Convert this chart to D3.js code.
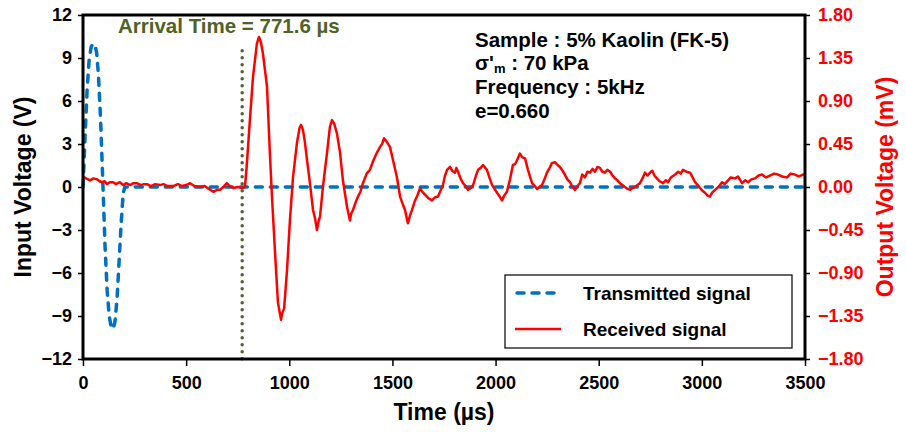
<!DOCTYPE html>
<html>
<head>
<meta charset="utf-8">
<script src="https://cdn.jsdelivr.net/npm/d3@7/dist/d3.min.js"></script>
<style>
  html, body { margin: 0; padding: 0; background: #fff; }
  svg text { font-family: "Liberation Sans", Arial, sans-serif; font-weight: bold; }
</style>
</head>
<body>
<div id="chart"></div>
<script>
// tick labels
const timeTicks = [0, 500, 1000, 1500, 2000, 2500, 3000, 3500];
const inputTicks = [-12, -9, -6, -3, 0, 3, 6, 9, 12];
const outputTicks = [-1.8, -1.35, -0.9, -0.45, 0, 0.45, 0.9, 1.35, 1.8];

// transmitted signal (input, V)
const transTime = [0, 10, 20, 30, 40, 50, 58, 66, 75, 85, 97, 107, 117, 127, 137, 146, 155, 165, 175, 185, 195, 203, 3500];
const transVolt = [0, 3.5, 6.8, 8.9, 9.8, 10.0, 9.9, 9.4, 7.8, 4.8, 0, -4.2, -7.2, -9.0, -9.8, -9.9, -9.4, -7.8, -5.2, -2.5, -0.4, 0, 0];

// received signal (output, mV): [time µs, mV]
const received = [
  [0,0.11],[15,0.09],[34,0.07],[50,0.09],[68,0.08],[80,0.06],[92,0.05],[105,0.06],[116,0.03],[130,0.05],
  [146,0.05],[160,0.03],[179,0.05],[195,0.02],[210,0.04],[228,0.02],[245,0.04],[261,0.04],[280,0.02],[295,0.03],
  [310,0.03],[330,0.01],[350,0.03],[373,0.02],[390,0.03],[410,0.01],[438,0.01],[460,0.03],[480,0.01],[500,0.02],
  [519,0.04],[540,0.01],[567,0.0],[590,0.01],[610,-0.02],[632,-0.05],[650,-0.03],[664,-0.03],[680,0.0],[697,0.04],
  [712,0.01],[729,-0.01],[750,0.0],[776,-0.01],[785,0.0],[793,0.2],[809,0.7],[824,1.15],[843,1.5],[853,1.57],
  [862,1.52],[872,1.40],[892,1.05],[906,0.35],[916,-0.1],[931,-0.69],[945,-1.21],[960,-1.39],[966,-1.32],[975,-1.27],
  [989,-0.87],[1003,-0.35],[1018,0.10],[1037,0.46],[1050,0.62],[1057,0.65],[1066,0.60],[1075,0.48],[1086,0.28],[1100,0.04],
  [1115,-0.24],[1125,-0.33],[1134,-0.45],[1142,-0.36],[1149,-0.31],[1163,0.0],[1183,0.36],[1197,0.63],[1207,0.70],[1218,0.66],
  [1231,0.56],[1246,0.36],[1260,0.07],[1280,-0.21],[1294,-0.35],[1300,-0.28],[1309,-0.24],[1320,-0.17],[1333,-0.10],[1345,-0.05],
  [1357,0.04],[1375,0.14],[1391,0.18],[1408,0.28],[1425,0.36],[1440,0.42],[1450,0.45],[1459,0.51],[1470,0.48],[1488,0.42],
  [1503,0.28],[1522,0.10],[1537,-0.10],[1550,-0.18],[1561,-0.24],[1575,-0.38],[1585,-0.30],[1595,-0.24],[1608,-0.15],[1619,-0.10],
  [1634,-0.01],[1645,-0.05],[1658,-0.08],[1675,-0.12],[1692,-0.14],[1705,-0.11],[1721,-0.10],[1733,-0.04],[1745,0.02],[1755,0.12],
  [1765,0.18],[1779,0.21],[1790,0.17],[1803,0.15],[1810,0.20],[1818,0.16],[1830,0.09],[1842,0.04],[1855,0.01],[1866,-0.03],
  [1880,-0.01],[1891,0.02],[1905,0.12],[1915,0.18],[1928,0.20],[1939,0.23],[1950,0.20],[1958,0.18],[1970,0.10],[1983,0.02],
  [1995,-0.02],[2007,-0.06],[2020,-0.10],[2031,-0.14],[2042,-0.09],[2055,-0.05],[2070,0.08],[2084,0.23],[2095,0.24],[2104,0.28],
  [2118,0.35],[2130,0.31],[2143,0.30],[2157,0.18],[2168,0.10],[2177,0.04],[2190,0.01],[2201,-0.02],[2213,0.0],[2225,0.02],
  [2237,0.08],[2249,0.15],[2262,0.20],[2273,0.25],[2288,0.26],[2300,0.23],[2312,0.21],[2325,0.17],[2336,0.13],[2348,0.08],
  [2361,0.05],[2373,0.0],[2385,-0.03],[2397,0.01],[2409,0.04],[2420,0.13],[2433,0.10],[2445,0.16],[2458,0.15],[2470,0.19],
  [2482,0.16],[2494,0.21],[2506,0.20],[2518,0.16],[2530,0.15],[2542,0.18],[2555,0.16],[2567,0.12],[2579,0.09],[2591,0.07],
  [2603,0.04],[2615,0.02],[2627,0.0],[2640,-0.02],[2652,-0.03],[2664,-0.01],[2676,0.0],[2688,0.02],[2700,0.04],[2712,0.09],
  [2724,0.15],[2737,0.12],[2749,0.15],[2760,0.17],[2770,0.12],[2782,0.09],[2795,0.06],[2812,0.04],[2825,0.07],[2836,0.05],
  [2850,0.10],[2870,0.13],[2885,0.16],[2897,0.14],[2909,0.18],[2925,0.16],[2943,0.15],[2955,0.10],[2967,0.05],[2980,0.02],
  [2991,-0.01],[3003,-0.04],[3015,-0.06],[3028,-0.09],[3039,-0.10],[3050,-0.06],[3064,-0.03],[3080,0.0],[3098,0.05],[3110,0.03],
  [3127,0.07],[3140,0.10],[3161,0.09],[3175,0.11],[3195,0.04],[3210,0.07],[3224,0.05],[3240,0.08],[3258,0.09],[3275,0.12],
  [3292,0.13],[3310,0.10],[3330,0.12],[3350,0.14],[3369,0.13],[3390,0.11],[3413,0.10],[3430,0.14],[3451,0.13],[3470,0.11],
  [3490,0.13],[3500,0.12]
];

const arrivalTime = 771.6;
const arrivalTop = 9.5;

const width = 906, height = 432;
const margin = {top: 15, right: 101, bottom: 73, left: 83};
const w = width - margin.left - margin.right;
const h = height - margin.top - margin.bottom;

const svg = d3.select('#chart').append('svg')
    .attr('width', width)
    .attr('height', height);

const g = svg.append('g').attr('transform', `translate(${margin.left},${margin.top})`);

const x = d3.scaleLinear().domain([0, 3500]).range([0, w]);
const yL = d3.scaleLinear().domain([-12, 12]).range([h, 0]);
const yR = d3.scaleLinear().domain([-1.8, 1.8]).range([h, 0]);

// axes
const xAxis = g.append('g')
    .attr('transform', `translate(0,${h})`)
    .call(d3.axisBottom(x).tickValues(timeTicks).tickSize(7).tickPadding(10).tickFormat(d3.format('d')));
const leftAxis = g.append('g')
    .call(d3.axisLeft(yL).tickValues(inputTicks).tickSize(5).tickPadding(6).tickFormat(d3.format('d')));
const rightAxis = g.append('g')
    .attr('transform', `translate(${w},0)`)
    .call(d3.axisRight(yR).tickValues(outputTicks).tickSize(5).tickPadding(8).tickFormat(d3.format('.2f')));

[xAxis, leftAxis, rightAxis].forEach(a => {
    a.select('.domain').remove();
    a.selectAll('.tick line').attr('stroke', '#000').attr('stroke-width', 1.5);
    a.selectAll('.tick text').attr('font-size', 18).attr('fill', '#000');
});
xAxis.selectAll('.tick text').attr('dy', '0.71em');
rightAxis.selectAll('.tick text').attr('fill', '#ff0000');

// arrival time marker
g.append('line')
    .attr('x1', x(arrivalTime)).attr('x2', x(arrivalTime))
    .attr('y1', yL(arrivalTop)).attr('y2', yL(-12))
    .attr('stroke', '#4f6228')
    .attr('stroke-width', 3.5)
    .attr('stroke-linecap', 'round')
    .attr('stroke-dasharray', '0,7');

// transmitted signal
const transPts = transTime.map((t, i) => [t, transVolt[i]]);
g.append('path')
    .datum(transPts)
    .attr('fill', 'none')
    .attr('stroke', '#0070c0')
    .attr('stroke-width', 3.5)
    .attr('stroke-linecap', 'round')
    .attr('stroke-dasharray', '7,8')
    .attr('d', d3.line().x(d => x(d[0])).y(d => yL(d[1])));

// received signal
g.append('path')
    .datum(received)
    .attr('fill', 'none')
    .attr('stroke', '#ff0000')
    .attr('stroke-width', 2.5)
    .attr('stroke-linejoin', 'round')
    .attr('d', d3.line().x(d => x(d[0])).y(d => yR(d[1])));

// plot frame
g.append('rect')
    .attr('width', w).attr('height', h)
    .attr('fill', 'none')
    .attr('stroke', '#000')
    .attr('stroke-width', 3);

// axis titles
svg.append('text')
    .attr('x', margin.left + w / 2).attr('y', 420)
    .attr('text-anchor', 'middle')
    .attr('font-size', 23)
    .text('Time (µs)');
svg.append('text')
    .attr('transform', `translate(31,${margin.top + h / 2}) rotate(-90)`)
    .attr('text-anchor', 'middle')
    .attr('font-size', 23)
    .text('Input Voltage (V)');
svg.append('text')
    .attr('transform', `translate(893,${margin.top + h / 2}) rotate(-90)`)
    .attr('text-anchor', 'middle')
    .attr('font-size', 23)
    .attr('fill', '#ff0000')
    .text('Output Voltage (mV)');

// arrival label
svg.append('text')
    .attr('x', 118).attr('y', 33)
    .attr('font-size', 20.5)
    .attr('fill', '#4f6228')
    .text('Arrival Time = 771.6 µs');

// sample info
const info = svg.append('g').attr('font-size', 20.5).attr('fill', '#000');
info.append('text').attr('x', 475).attr('y', 47).text('Sample : 5% Kaolin (FK-5)');
const sig = info.append('text').attr('x', 475).attr('y', 70);
sig.append('tspan').text("σ'");
sig.append('tspan').attr('font-size', 13).attr('dy', 3).text('m');
sig.append('tspan').attr('dy', -3).text(' : 70 kPa');
info.append('text').attr('x', 475).attr('y', 94).text('Frequency : 5kHz');
info.append('text').attr('x', 475).attr('y', 118).text('e=0.660');

// legend
const legend = svg.append('g').attr('transform', 'translate(505,275)');
legend.append('rect')
    .attr('width', 287).attr('height', 73)
    .attr('fill', '#fff')
    .attr('stroke', '#000')
    .attr('stroke-width', 1.2);
legend.append('line')
    .attr('x1', 12).attr('x2', 53).attr('y1', 18).attr('y2', 18)
    .attr('stroke', '#0070c0').attr('stroke-width', 3.5)
    .attr('stroke-linecap', 'round').attr('stroke-dasharray', '7,8');
legend.append('line')
    .attr('x1', 10).attr('x2', 56).attr('y1', 54).attr('y2', 54)
    .attr('stroke', '#ff0000').attr('stroke-width', 2.5);
legend.append('text').attr('x', 78).attr('y', 25).attr('font-size', 19).text('Transmitted signal');
legend.append('text').attr('x', 78).attr('y', 61).attr('font-size', 19).text('Received signal');
</script>
</body>
</html>
